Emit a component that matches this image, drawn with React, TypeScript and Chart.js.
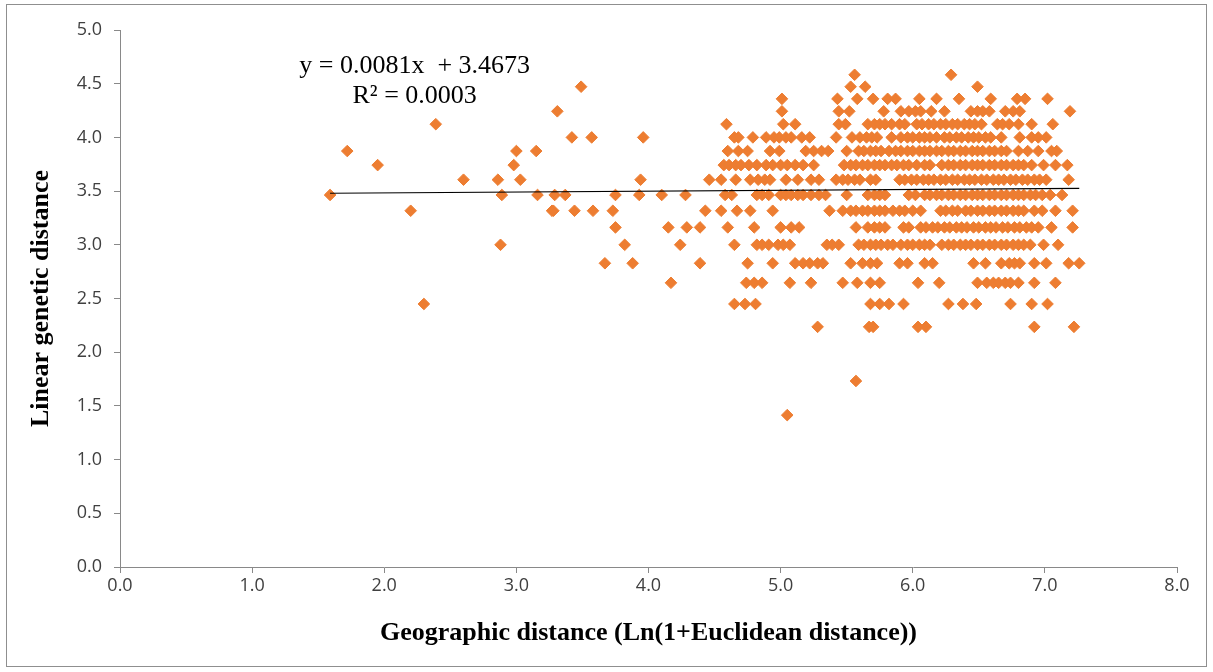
import { useEffect, useRef } from 'react';
import { Chart, registerables } from 'chart.js';
Chart.register(...registerables);

// genetic-distance levels (y) and the geographic distances (x) observed at each
const level458 = 4.583; const x458 = [5.56, 6.29];
const level447 = 4.472; const x447 = [3.49, 5.53, 5.64, 6.49];
const level436 = 4.359; const x436 = [5.01, 5.43, 5.58, 5.70, 5.81, 5.87, 6.05, 6.18, 6.35, 6.59, 6.79, 6.85, 7.02];
const level424 = 4.243; const x424 = [3.31, 5.01, 5.44, 5.52, 5.78, 5.91, 5.97, 6.02, 6.06, 6.14, 6.24, 6.44, 6.49, 6.53, 6.58, 6.70, 6.76, 6.81, 7.19];
const level412 = 4.123; const x412 = [2.39, 4.59, 5.02, 5.11, 5.44, 5.49, 5.66, 5.71, 5.75, 5.79, 5.84, 5.90, 5.94, 6.03, 6.07, 6.12, 6.16, 6.21, 6.25, 6.30, 6.34, 6.39, 6.43, 6.47, 6.52, 6.64, 6.68, 6.73, 6.80, 6.90, 7.06];
const level400 = 4.0; const x400 = [3.42, 3.57, 3.96, 4.65, 4.68, 4.79, 4.89, 4.95, 4.99, 5.04, 5.08, 5.16, 5.22, 5.42, 5.54, 5.60, 5.65, 5.69, 5.73, 5.84, 5.91, 5.96, 6.00, 6.05, 6.09, 6.13, 6.18, 6.24, 6.28, 6.33, 6.37, 6.42, 6.46, 6.50, 6.55, 6.59, 6.67, 6.81, 6.90, 6.95, 7.01];
const level387 = 3.873; const x387 = [1.72, 3.00, 3.15, 4.60, 4.68, 4.75, 4.92, 4.99, 5.19, 5.25, 5.31, 5.36, 5.50, 5.59, 5.63, 5.68, 5.72, 5.76, 5.82, 5.87, 5.91, 5.96, 6.00, 6.05, 6.09, 6.13, 6.18, 6.22, 6.27, 6.31, 6.36, 6.40, 6.45, 6.49, 6.53, 6.58, 6.62, 6.67, 6.71, 6.80, 6.87, 6.95, 7.05, 7.09];
const level374 = 3.742; const x374 = [1.95, 2.98, 4.57, 4.61, 4.66, 4.70, 4.76, 4.82, 4.89, 4.94, 5.00, 5.05, 5.11, 5.17, 5.25, 5.48, 5.53, 5.57, 5.62, 5.66, 5.71, 5.75, 5.79, 5.84, 5.88, 5.93, 5.97, 6.03, 6.09, 6.13, 6.22, 6.27, 6.31, 6.36, 6.40, 6.45, 6.49, 6.53, 6.58, 6.62, 6.67, 6.71, 6.76, 6.80, 6.84, 6.90, 6.99, 7.08, 7.17];
const level361 = 3.606; const x361 = [2.60, 2.86, 3.03, 3.94, 4.46, 4.55, 4.66, 4.77, 4.83, 4.88, 4.92, 5.04, 5.13, 5.23, 5.29, 5.42, 5.47, 5.51, 5.56, 5.60, 5.68, 5.72, 5.90, 5.94, 5.99, 6.03, 6.08, 6.12, 6.16, 6.21, 6.25, 6.30, 6.34, 6.39, 6.43, 6.47, 6.52, 6.56, 6.61, 6.65, 6.69, 6.74, 6.78, 6.83, 6.87, 6.92, 6.96, 7.01, 7.18];
const level346 = 3.464; const x346 = [1.59, 2.89, 3.16, 3.29, 3.37, 3.75, 3.93, 4.10, 4.28, 4.58, 4.63, 4.82, 4.86, 4.91, 5.00, 5.04, 5.08, 5.13, 5.17, 5.23, 5.29, 5.34, 5.50, 5.66, 5.71, 5.75, 5.79, 5.97, 6.02, 6.09, 6.13, 6.18, 6.22, 6.27, 6.31, 6.36, 6.40, 6.45, 6.49, 6.53, 6.58, 6.62, 6.67, 6.71, 6.76, 6.80, 6.84, 6.89, 6.93, 6.98, 7.04, 7.13];
const level332 = 3.317; const x332 = [2.20, 3.27, 3.28, 3.44, 3.58, 3.73, 4.43, 4.55, 4.67, 4.77, 4.94, 5.37, 5.47, 5.53, 5.57, 5.62, 5.66, 5.71, 5.75, 5.79, 5.85, 5.90, 5.94, 6.00, 6.06, 6.21, 6.25, 6.30, 6.34, 6.40, 6.44, 6.49, 6.53, 6.58, 6.62, 6.67, 6.71, 6.76, 6.80, 6.84, 6.92, 6.98, 7.08, 7.21];
const level316 = 3.162; const x316 = [3.75, 4.15, 4.29, 4.39, 4.60, 4.80, 5.00, 5.08, 5.14, 5.57, 5.66, 5.71, 5.75, 5.79, 5.93, 5.97, 6.06, 6.10, 6.15, 6.19, 6.24, 6.28, 6.33, 6.37, 6.41, 6.46, 6.50, 6.55, 6.59, 6.63, 6.68, 6.72, 6.77, 6.81, 6.86, 6.90, 6.95, 7.05, 7.21];
const level300 = 3.0; const x300 = [2.88, 3.82, 4.24, 4.65, 4.82, 4.86, 4.91, 4.98, 5.02, 5.07, 5.35, 5.39, 5.44, 5.59, 5.63, 5.68, 5.72, 5.76, 5.81, 5.85, 5.91, 5.96, 6.00, 6.05, 6.09, 6.13, 6.22, 6.27, 6.31, 6.36, 6.40, 6.44, 6.49, 6.53, 6.58, 6.62, 6.67, 6.71, 6.76, 6.80, 6.84, 6.89, 6.99, 7.10];
const level283 = 2.828; const x283 = [3.67, 3.88, 4.39, 4.75, 4.94, 5.11, 5.17, 5.22, 5.28, 5.32, 5.53, 5.62, 5.68, 5.73, 5.90, 5.96, 6.09, 6.15, 6.46, 6.55, 6.67, 6.73, 6.77, 6.81, 6.92, 7.01, 7.18, 7.26];
const level265 = 2.646; const x265 = [4.17, 4.74, 4.80, 4.86, 5.07, 5.23, 5.47, 5.58, 5.68, 5.75, 6.04, 6.20, 6.49, 6.56, 6.61, 6.65, 6.70, 6.74, 6.80, 6.92, 7.08];
const level245 = 2.449; const x245 = [2.30, 4.65, 4.73, 4.81, 5.68, 5.75, 5.82, 5.93, 6.27, 6.38, 6.48, 6.74, 6.90, 7.02];
const level224 = 2.236; const x224 = [5.28, 5.67, 5.70, 6.04, 6.10, 6.92, 7.22];
const level173 = 1.732; const x173 = [5.57];
const level141 = 1.414; const x141 = [5.05];

const rows: [number, number[]][] = [
  [level458, x458], [level447, x447], [level436, x436], [level424, x424], [level412, x412],
  [level400, x400], [level387, x387], [level374, x374], [level361, x361], [level346, x346],
  [level332, x332], [level316, x316], [level300, x300], [level283, x283], [level265, x265],
  [level245, x245], [level224, x224], [level173, x173], [level141, x141],
];

// linear trend line end points
const trendX = [1.59, 7.26];
const trendY = [3.4802, 3.5261];

const equationLines = ['y = 0.0081x  + 3.4673', 'R\u00B2 = 0.0003'];
const equationAnchor = { x: 2.23, y1: 4.66, y2: 4.38 };

const xTitle = 'Geographic distance (Ln(1+Euclidean distance))';
const yTitle = 'Linear genetic distance';

const ORANGE = '#ED7D31';
const AXIS = '#898989';
const SERIF = '"Liberation Serif", "Times New Roman", serif';
const SANS = '"Open Sans", sans-serif';

export default function App() {
  const ref = useRef<HTMLCanvasElement>(null);
  useEffect(() => {
    document.body.style.margin = '0';
    document.body.style.background = '#fff';
    const points: { x: number; y: number }[] = [];
    rows.forEach(([lv, xs]) => xs.forEach((xv) => points.push({ x: xv, y: lv })));

    const eqPlugin = {
      id: 'eqText',
      afterDatasetsDraw(chart: any) {
        const { ctx, scales } = chart;
        const px = scales.x.getPixelForValue(equationAnchor.x);
        ctx.save();
        ctx.font = `26px ${SERIF}`;
        ctx.fillStyle = '#000';
        ctx.textAlign = 'center';
        ctx.textBaseline = 'middle';
        ctx.fillText(equationLines[0], px, scales.y.getPixelForValue(equationAnchor.y1));
        ctx.fillText(equationLines[1], px, scales.y.getPixelForValue(equationAnchor.y2));
        ctx.restore();
      },
    };

    const chart = new Chart(ref.current!, {
      type: 'scatter',
      data: {
        datasets: [
          {
            type: 'line',
            label: 'trend',
            data: trendX.map((xv, i) => ({ x: xv, y: trendY[i] })),
            borderColor: '#000',
            borderWidth: 1.2,
            pointRadius: 0,
            fill: false,
            order: 0,
          } as any,
          {
            label: 'points',
            data: points,
            pointStyle: 'rectRot',
            pointRadius: 5.8,
            pointBackgroundColor: ORANGE,
            pointBorderColor: ORANGE,
            pointBorderWidth: 1,
            order: 1,
          },
        ],
      },
      options: {
        animation: false,
        responsive: false,
        maintainAspectRatio: false,
        layout: { padding: { top: 30, right: 36, left: 0, bottom: 0 } },
        plugins: { legend: { display: false }, tooltip: { enabled: false } },
        scales: {
          x: {
            type: 'linear',
            min: 0,
            max: 8,
            afterFit: (s: any) => { s.height = 105; },
            ticks: {
              stepSize: 1,
              callback: (v: any) => Number(v).toFixed(1),
              color: '#404040',
              font: { family: SANS, size: 18 },
              padding: 2,
            },
            grid: { drawOnChartArea: false, color: AXIS, tickLength: 6 },
            border: { color: AXIS, width: 1 },
            title: {
              display: true,
              text: xTitle,
              color: '#000',
              font: { family: SERIF, size: 26, weight: 'bold' },
              padding: { top: 0, bottom: 23 },
            },
          },
          y: {
            type: 'linear',
            min: 0,
            max: 5,
            afterFit: (s: any) => { s.width = 120; },
            ticks: {
              stepSize: 0.5,
              callback: (v: any) => Number(v).toFixed(1),
              color: '#404040',
              font: { family: SANS, size: 18 },
              padding: 12,
            },
            grid: { drawOnChartArea: false, color: AXIS, tickLength: 6 },
            border: { color: AXIS, width: 1 },
            title: {
              display: true,
              text: yTitle,
              color: '#000',
              font: { family: SERIF, size: 26, weight: 'bold' },
              padding: { top: 26, bottom: 0 },
            },
          },
        },
      },
      plugins: [eqPlugin],
    });
    return () => chart.destroy();
  }, []);

  return (
    <div style={{ position: 'relative', width: 1213, height: 672, background: '#fff' }}>
      <div
        style={{
          position: 'absolute', left: 6, top: 4, width: 1201, height: 663,
          border: '1px solid #8f8f8f', boxSizing: 'border-box',
        }}
      />
      <canvas ref={ref} width={1213} height={672} style={{ position: 'absolute', left: 0, top: 0 }} />
    </div>
  );
}
